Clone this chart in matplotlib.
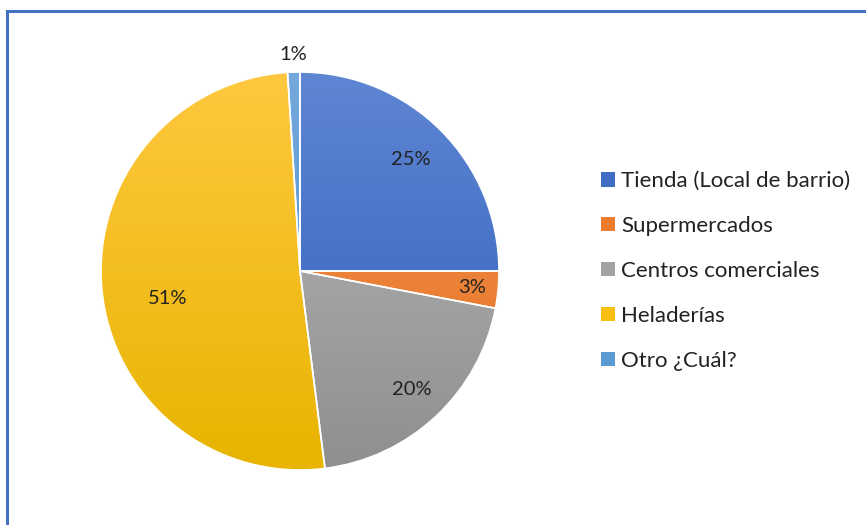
import numpy as np
import matplotlib
matplotlib.use("Agg")
import matplotlib.pyplot as plt
from matplotlib.colors import LinearSegmentedColormap
from matplotlib.patches import Patch
from matplotlib.lines import Line2D

categories = ["Tienda (Local de barrio)", "Supermercados", "Centros comerciales",
              "Heladerías", "Otro ¿Cuál?"]
values = [25, 3, 20, 51, 1]
labels = ["25%", "3%", "20%", "51%", "1%"]

# light (top) / dark (bottom) gradient stops per slice
top_colors = ["#5F86D3", "#F69A5C", "#B9B9B9", "#FFC83F", "#74A9DC"]
bottom_colors = ["#2C5CB9", "#E26B17", "#8F8F8F", "#E8B400", "#4A8ACB"]
legend_colors = ["#3F6CC4", "#EE7A2E", "#A3A3A3", "#F8BE10", "#5B9BD5"]

W, H = 866, 525
fig = plt.figure(figsize=(W / 100, H / 100), dpi=100)
ax = fig.add_axes([0, 0, 1, 1])

cx, cy, r = 300, H - 271, 199
wedges, _ = ax.pie(values, startangle=90, counterclock=False, radius=r,
                   center=(cx, cy), frame=True,
                   wedgeprops=dict(facecolor="none", edgecolor="white", linewidth=1.2))

grad = np.linspace(1, 0, 256).reshape(-1, 1)
for w, c0, c1 in zip(wedges, top_colors, bottom_colors):
    cmap = LinearSegmentedColormap.from_list("g", [c1, c0])
    im = ax.imshow(grad, cmap=cmap, extent=(cx - r, cx + r, cy - r, cy + r),
                   origin="upper", aspect="auto", zorder=1)
    im.set_clip_path(w)
    w.set_zorder(2)

ax.set_xlim(0, W)
ax.set_ylim(0, H)
ax.set_aspect("equal")
ax.axis("off")

# label placement: (fraction of radius, angle shift from slice mid-angle in degrees)
label_pos = [(0.79, 0), (0.87, 0), (0.82, 0), (0.68, 6.5), (1.09, 0)]
for w, txt, (fr, shift) in zip(wedges, labels, label_pos):
    ang = np.deg2rad((w.theta1 + w.theta2) / 2 + shift)
    ax.text(cx + fr * r * np.cos(ang), cy + fr * r * np.sin(ang), txt,
            ha="center", va="center", fontsize=14.5, family="Lato",
            color="#222222", zorder=3)

handles = [Patch(facecolor=c, edgecolor="none") for c in legend_colors]
leg = ax.legend(handles, categories, loc="center left",
                bbox_to_anchor=(601 / W, 1 - 271 / H), frameon=False,
                prop=dict(family="Lato", size=16), handlelength=0.62,
                handleheight=0.62, handletextpad=0.3, labelspacing=1.12,
                borderpad=0, borderaxespad=0)
for t in leg.get_texts():
    t.set_color("#222222")

# outer frame (top and left edges)
fig.add_artist(Line2D([7 / W, 7 / W], [0, 1 - 11 / H], transform=fig.transFigure,
                      color="#4472C4", linewidth=2.2))
fig.add_artist(Line2D([7 / W, 1], [1 - 11 / H, 1 - 11 / H], transform=fig.transFigure,
                      color="#4472C4", linewidth=2.2))

fig.savefig("out.png", dpi=100, facecolor="white")
